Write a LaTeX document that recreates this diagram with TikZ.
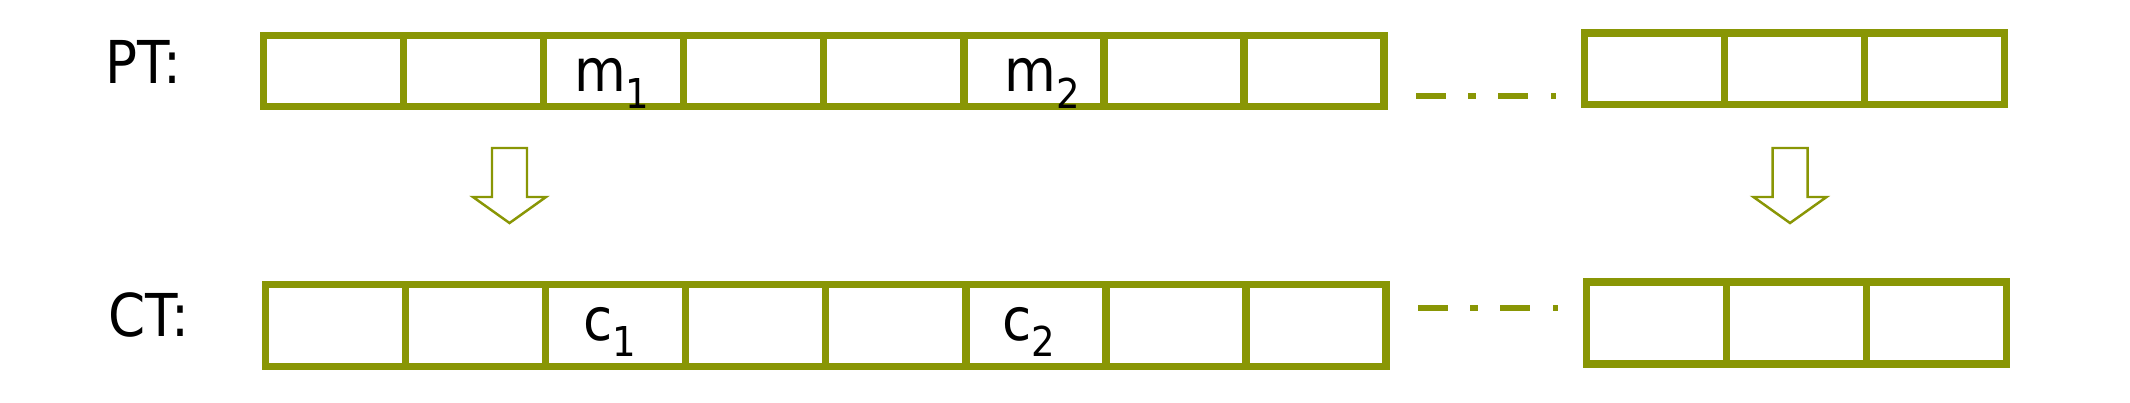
\documentclass[tikz,border=0pt]{standalone}
\usepackage{fontspec}
\setmainfont{DejaVu Sans Condensed}
\usepackage{tikz}
\usepackage{xcolor}
\usetikzlibrary{calc, chains, positioning}

\definecolor{ptgreen}{RGB}{137,150,5}
\newcommand{\lowidx}[1]{\raisebox{-4.7pt}{\fontsize{11.7pt}{12pt}\selectfont #1}}

\begin{document}
\begin{tikzpicture}[x=0.01cm, y=-0.01cm,
    pcell/.style={
      draw=ptgreen,
      line width=2.08pt,
      minimum width=1.4cm,
      minimum height=0.71cm,
      inner sep=0pt,
      outer sep=0pt
    },
    ccell/.style={pcell, minimum height=0.82cm},
    lbl/.style={inner sep=0pt, font=\fontsize{16.8pt}{18pt}\selectfont},
    gaps/.style={ptgreen, line width=0.065cm,
      dash pattern=on 3mm off 2.2mm on 0.8mm off 2.2mm on 3mm off 2.3mm on 0.5mm},
    node distance=0pt]
  \useasboundingbox (0,0) rectangle (2130,402);

  % plaintext blocks
  \begin{scope}[start chain=pt going right]
    \node[pcell, on chain] at (333.5,71) {};
    \foreach \i in {2,...,8}
      \node[pcell, on chain] {};
  \end{scope}
  \begin{scope}[start chain=ptr going right]
    \node[pcell, on chain, minimum height=0.715cm] at (1654.5,68.75) {};
    \foreach \i in {2,3}
      \node[pcell, on chain, minimum height=0.715cm] {};
  \end{scope}

  % ciphertext blocks
  \begin{scope}[start chain=ct going right]
    \node[ccell, on chain] at (335.5,325.5) {};
    \foreach \i in {2,...,8}
      \node[ccell, on chain] {};
  \end{scope}
  \begin{scope}[start chain=ctr going right]
    \node[ccell, on chain] at (1656.5,323) {};
    \foreach \i in {2,3}
      \node[ccell, on chain] {};
  \end{scope}

  \node[lbl, anchor=base west] (ptlbl) at (105,83) {PT:};
  \node[lbl, anchor=base west] (ctlbl) at (108,336) {CT:};

  \node[lbl, anchor=base] (m1) at ($(pt-3.center)+(-2,20.7)$) {m\lowidx{1}};
  \node[lbl, anchor=base] (m2) at ($(pt-6.center)+(8,20.7)$) {m\lowidx{2}};
  \node[lbl, anchor=base] (c1) at ($(ct-3.center)+(-6,14.5)$) {c\lowidx{1}};
  \node[lbl, anchor=base] (c2) at ($(ct-6.center)+(-7,14.5)$) {c\lowidx{2}};

  % skipped blocks
  \draw[gaps] (1416,96) -- ++(140,0);
  \draw[gaps] (1418,308) -- ++(140,0);

  % block arrows
  \foreach \ax in {509.5,1790}
    \draw[ptgreen, line width=0.7pt, fill=white]
      (\ax-17.5,148) -- (\ax+17.5,148) -- (\ax+17.5,197) -- (\ax+36.5,197)
      -- (\ax,223) -- (\ax-36.5,197) -- (\ax-17.5,197) -- cycle;
\end{tikzpicture}
\end{document}
